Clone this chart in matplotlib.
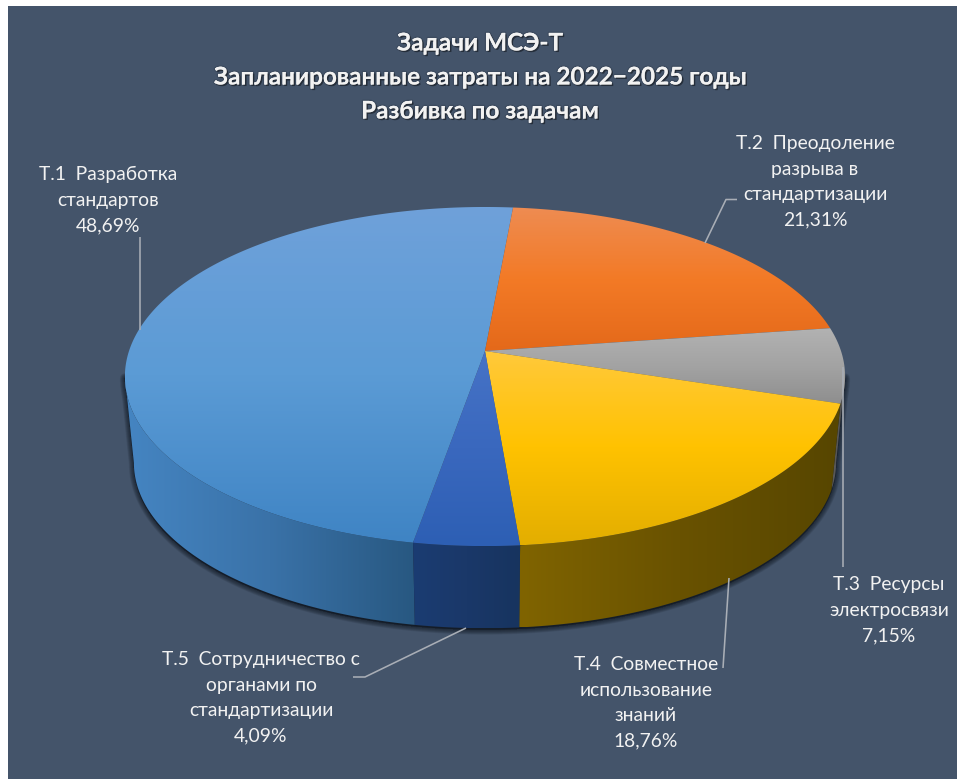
import numpy as np
import matplotlib
matplotlib.use("Agg")
import matplotlib.pyplot as plt
import matplotlib.patheffects as pe
from matplotlib.colors import to_rgb
from matplotlib.patches import Polygon, Rectangle

# ---------- data ----------
labels = ["Т.1  Разработка\nстандартов",
          "Т.2  Преодоление\nразрыва в\nстандартизации",
          "Т.3  Ресурсы\nэлектросвязи",
          "Т.4  Совместное\nиспользование\nзнаний",
          "Т.5  Сотрудничество с\nорганами по\nстандартизации"]
shares = [48.69, 21.31, 7.15, 18.76, 4.09]
title_lines = ["Задачи МСЭ-Т", "Запланированные затраты на 2022−2025 годы", "Разбивка по задачам"]

# ---------- style ----------
top_colors = [["#6FA1DA", "#5B9BD5", "#3F84C4"],
              ["#EE8C52", "#F37A26", "#E4691A"],
              ["#B2B2B2", "#A3A3A3", "#8E8E8E"],
              ["#FFC93C", "#FFC200", "#E3AE00"],
              ["#4673C6", "#3A68BE", "#2D5FB4"]]
wall_colors = [["#4585C2", "#3A72A8", "#285881"],
               ["#7A4A20", "#7A4A20", "#7A4A20"],
               ["#5A5A5A", "#555555", "#4E4E4E"],
               ["#806400", "#695200", "#574600"],
               ["#1B3C72", "#1A3869", "#17345F"]]
BG = "#44546A"
LEADER = "#A9AEB6"
FONT = ["Lato", "Open Sans", "DejaVu Sans"]

# perspective of the disc, in figure pixels
CX, CY, A, B, C = 485.0, 351.0, 356.0, 165.7, 0.1506
WALL_DY, WALL_SCALE = 87.0, 0.975
START_DEG = 5.2 - shares[0] * 3.6


def rim(theta_deg, scale=1.0, dy=0.0):
    t = np.radians(theta_deg)
    u, v = np.sin(t), np.cos(t)
    d = 1 + C * v
    return np.c_[CX + scale * A * u / d, CY + dy - scale * B * v / d]


def gradient(ax, poly_xy, stops, vertical, z):
    x0, y0 = poly_xy.min(axis=0)
    x1, y1 = poly_xy.max(axis=0)
    rgb = np.array([to_rgb(c) for c in stops])
    s = np.linspace(0, 1, 256)
    ramp = np.stack([np.interp(s, [0, .5, 1], rgb[:, i]) for i in range(3)], axis=-1)
    img = ramp[:, None, :] if vertical else ramp[None, :, :]
    im = ax.imshow(img, extent=(x0, x1, y1, y0), origin="upper", aspect="auto",
                   interpolation="bilinear", zorder=z)
    im.set_clip_path(Polygon(poly_xy, closed=True, transform=ax.transData))
    return im


fig = plt.figure(figsize=(9.57, 7.79), dpi=100, facecolor="white")
ax = fig.add_axes([0, 0, 1, 1])
ax.set_axis_off()
ax.add_patch(Rectangle((8, 6), 949, 773, fc=BG, ec="none", zorder=0))

edges = START_DEG + np.r_[0, np.cumsum(shares)] * 3.6

# visible (front) part of the side wall: between the two silhouette tangents
sweep = np.linspace(0, 360, 3601)
sweep_x = rim(sweep)[:, 0]
TH_RIGHT, TH_LEFT = sweep[np.argmax(sweep_x)], sweep[np.argmin(sweep_x)]

# drop shadow round the wall silhouette
front = np.linspace(TH_RIGHT, TH_LEFT, 400)
outline = np.vstack([rim(front), rim(front[::-1], WALL_SCALE, WALL_DY)])
for lw in np.arange(10, 0, -1.0):
    ax.add_patch(Polygon(outline + [0, 1.5], closed=True, fc="#10161F", ec="#10161F",
                         lw=lw * 0.72, alpha=0.085, joinstyle="round", zorder=1))

# side walls
for i in range(len(shares)):
    for off in (-360, 0, 360):
        lo_th = max(edges[i] + off, TH_RIGHT)
        hi_th = min(edges[i + 1] + off, TH_LEFT)
        if hi_th <= lo_th:
            continue
        th = np.linspace(lo_th, hi_th, 240)
        gradient(ax, np.vstack([rim(th), rim(th[::-1], WALL_SCALE, WALL_DY)]),
                 wall_colors[i], False, 2)

# top faces
apex = np.array([[CX, CY]])
for i in range(len(shares)):
    th = np.linspace(edges[i], edges[i + 1], 240)
    gradient(ax, np.vstack([apex, rim(th)]), top_colors[i], True, 3)

# leader lines
leaders = [[(139.5, 237), (139.5, 330)],
           [(705, 243), (726, 199.5), (737, 199.5)],
           [(843, 367), (843, 567)],
           [(729, 578), (723, 668)],
           [(466, 628), (365, 677), (353, 677)]]
for pts in leaders:
    p = np.array(pts)
    ax.plot(p[:, 0], p[:, 1], color=LEADER, lw=1.15, zorder=4, solid_capstyle="butt")

# data labels
label_xy = [(108, 174.5), (815, 143.5), (889, 584.5), (646, 664.5), (261, 659.5)]
LINE_STEP = 25.6
for lab, val, (x, y) in zip(labels, shares, label_xy):
    lines = lab.split("\n") + [f"{val:.2f}%".replace(".", ",")]
    for k, line in enumerate(lines):
        ax.text(x, y + k * LINE_STEP, line, ha="center", va="center", color="#F2F2F2",
                fontsize=13.9, family=FONT, zorder=5)

# title
for k, line in enumerate(title_lines):
    ax.text(480, 43 + k * 34, line, ha="center", va="center", color="#F2F2F2", fontsize=17.5,
            fontweight="bold", family=FONT, zorder=5,
            path_effects=[pe.withStroke(linewidth=2.0, foreground=(0, 0, 0, 0.10)),
                          pe.withSimplePatchShadow(offset=(1.1, -1.1), shadow_rgbFace="black", alpha=0.40)])

ax.set_xlim(0, 957)
ax.set_ylim(779, 0)
fig.savefig("out.png", dpi=100, facecolor="white")
